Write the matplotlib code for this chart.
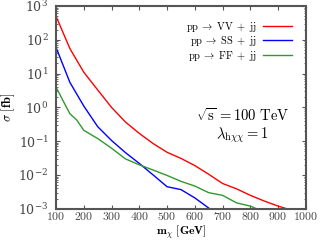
import matplotlib
matplotlib.use("Agg")
import matplotlib.pyplot as plt
from matplotlib.ticker import LogLocator, FixedLocator, NullFormatter, LogFormatterMathtext

plt.rcParams['mathtext.fontset'] = 'cm'
plt.rcParams['font.family'] = 'serif'
plt.rcParams['font.serif'] = ['DejaVu Serif']

mass_vv = [100, 150, 200, 250, 300, 350, 400, 450, 500, 550, 600, 650, 700, 750, 800, 850, 900, 950]
sigma_vv = [500, 55, 11, 3.3, 1.0, 0.37, 0.17, 0.085, 0.047, 0.031, 0.019, 0.0105, 0.0056, 0.0039, 0.0025, 0.0017, 0.0012, 0.0009]

mass_ss = [100, 150, 200, 250, 300, 350, 400, 450, 500, 550, 600, 650, 700]
sigma_ss = [60, 5.5, 1.1, 0.27, 0.105, 0.046, 0.022, 0.010, 0.0045, 0.0037, 0.0021, 0.00105, 0.0005]

mass_ff = [100, 125, 150, 175, 200, 250, 300, 350, 400, 450, 500, 550, 600, 650, 700, 750, 800, 850]
sigma_ff = [4.0, 1.6, 0.65, 0.42, 0.21, 0.12, 0.062, 0.030, 0.020, 0.014, 0.0097, 0.0065, 0.0047, 0.0030, 0.0025, 0.0015, 0.0012, 0.0008]

labels = [r'$\mathrm{pp}\;\rightarrow\;\mathrm{VV}\;+\;\mathrm{jj}$',
          r'$\mathrm{pp}\;\rightarrow\;\mathrm{SS}\;+\;\mathrm{jj}$',
          r'$\mathrm{pp}\;\rightarrow\;\mathrm{FF}\;+\;\mathrm{jj}$']
colors = ['#ff0000', '#0000ff', '#2e9a2e']
xticks = [100, 200, 300, 400, 500, 600, 700, 800, 900, 1000]
yticks = [1e-3, 1e-2, 1e-1, 1e0, 1e1, 1e2, 1e3]

fig = plt.figure(figsize=(3.2, 2.4), dpi=100)
ax = fig.add_axes([0.175, 0.13, 0.781, 0.845])

for m, s, lab, c in zip([mass_vv, mass_ss, mass_ff], [sigma_vv, sigma_ss, sigma_ff], labels, colors):
    ax.plot(m, s, color=c, lw=1.0, label=lab)

ax.set_yscale('log')
ax.set_xlim(100, 1000)
ax.set_ylim(1e-3, 1e3)
ax.xaxis.set_major_locator(FixedLocator(xticks))
ax.set_xticklabels([f'${t}$' for t in xticks])
ax.yaxis.set_major_locator(FixedLocator(yticks))
ax.yaxis.set_major_formatter(LogFormatterMathtext())
ax.yaxis.set_minor_locator(LogLocator(base=10, subs=range(2, 10), numticks=20))
ax.yaxis.set_minor_formatter(NullFormatter())

gray = '#555555'
for sp in ax.spines.values():
    sp.set_color(gray)
    sp.set_linewidth(1.5)
ax.tick_params(which='both', direction='in', top=True, right=True, colors=gray, labelsize=9, labelcolor='#444444')
ax.tick_params(which='major', length=3, width=0.8)
ax.tick_params(axis='x', which='major', pad=1, labelsize=8.5)
ax.tick_params(axis='y', which='major', pad=5.5)
ax.tick_params(which='minor', length=1.5, width=0.6)

ax.set_xlabel(r'$\mathbf{m}_{\mathbf{\chi}}\ \mathbf{[GeV]}$', fontsize=8.5, labelpad=0)
ax.set_ylabel(r'$\mathbf{\sigma}\ \mathbf{[fb]}$', fontsize=9, labelpad=1)

leg = ax.legend(loc='upper right', frameon=False, markerfirst=False, fontsize=7.5,
                handlelength=2.8, labelspacing=0.05, borderaxespad=0.9, handletextpad=0.6)

ax.text(0.745, 0.46, r'$\sqrt{\mathrm{s}}\, = 100\ \mathrm{TeV}$', transform=ax.transAxes,
        ha='center', va='center', fontsize=10.5)
ax.text(0.745, 0.363, r'$\lambda_{\mathrm{h}\chi\chi} = 1$', transform=ax.transAxes,
        ha='center', va='center', fontsize=10.5)

fig.savefig('out.png', dpi=100)
